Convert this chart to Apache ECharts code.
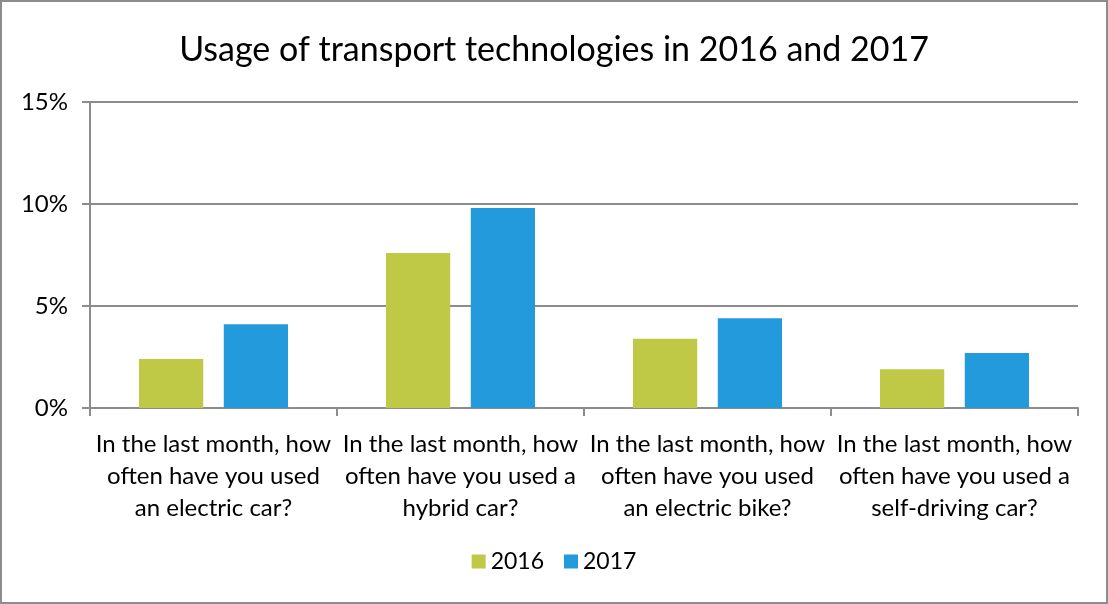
<!DOCTYPE html>
<html>
<head>
<meta charset="utf-8">
<script src="https://cdn.jsdelivr.net/npm/echarts@6/dist/echarts.min.js"></script>
<style>
  html, body { margin: 0; padding: 0; background: #fff; }
  #main { width: 1108px; height: 604px; box-sizing: border-box; border: 2px solid #8c8c8c; background: #fff; }
</style>
</head>
<body>
<div id="main"></div>
<script>
// 数据
var categories = [
  'In the last month, how\noften have you used\nan electric car?',
  'In the last month, how\noften have you used a\nhybrid car?',
  'In the last month, how\noften have you used\nan electric bike?',
  'In the last month, how\noften have you used a\nself-driving car?'
];
var values2016 = [2.4, 7.6, 3.4, 1.9];
var values2017 = [4.1, 9.8, 4.4, 2.7];
var yTicks = [0, 5, 10, 15];

var fontName = 'Lato';
var chart = echarts.init(document.getElementById('main'));
var option = {
  animation: false,
  color: ['#bfc946', '#239adb'],
  title: {
    text: 'Usage of transport technologies in 2016 and 2017',
    left: 'center',
    top: 26,
    textStyle: { fontFamily: fontName, fontSize: 34, fontWeight: 'normal', color: '#000' }
  },
  legend: {
    data: ['2016', '2017'],
    bottom: 24,
    left: 'center',
    icon: 'rect',
    itemWidth: 14,
    itemHeight: 14,
    itemGap: 20,
    textStyle: { fontFamily: fontName, fontSize: 23, color: '#000' }
  },
  grid: { left: 88, right: 28, top: 100, bottom: 194 },
  xAxis: {
    type: 'category',
    data: categories,
    axisLine: { lineStyle: { color: '#8c8c8c', width: 2 } },
    axisTick: { show: true, length: 8, lineStyle: { color: '#8c8c8c', width: 2 } },
    axisLabel: {
      interval: 0,
      margin: 20,
      fontFamily: fontName,
      fontSize: 24,
      lineHeight: 32,
      color: '#000'
    }
  },
  yAxis: {
    type: 'value',
    min: yTicks[0],
    max: yTicks[yTicks.length - 1],
    interval: 5,
    axisLine: { show: true, lineStyle: { color: '#8c8c8c', width: 2 } },
    axisTick: { show: true, length: 8, lineStyle: { color: '#8c8c8c', width: 2 } },
    splitLine: { lineStyle: { color: '#8c8c8c', width: 2 } },
    axisLabel: {
      formatter: '{value}%',
      margin: 22,
      fontFamily: fontName,
      fontSize: 24,
      color: '#000'
    }
  },
  series: [
    {
      name: '2016',
      type: 'bar',
      data: values2016,
      barWidth: '26%',
      barGap: '32%'
    },
    {
      name: '2017',
      type: 'bar',
      data: values2017,
      barWidth: '26%',
      barGap: '32%'
    }
  ]
};
chart.setOption(option);
</script>
</body>
</html>
